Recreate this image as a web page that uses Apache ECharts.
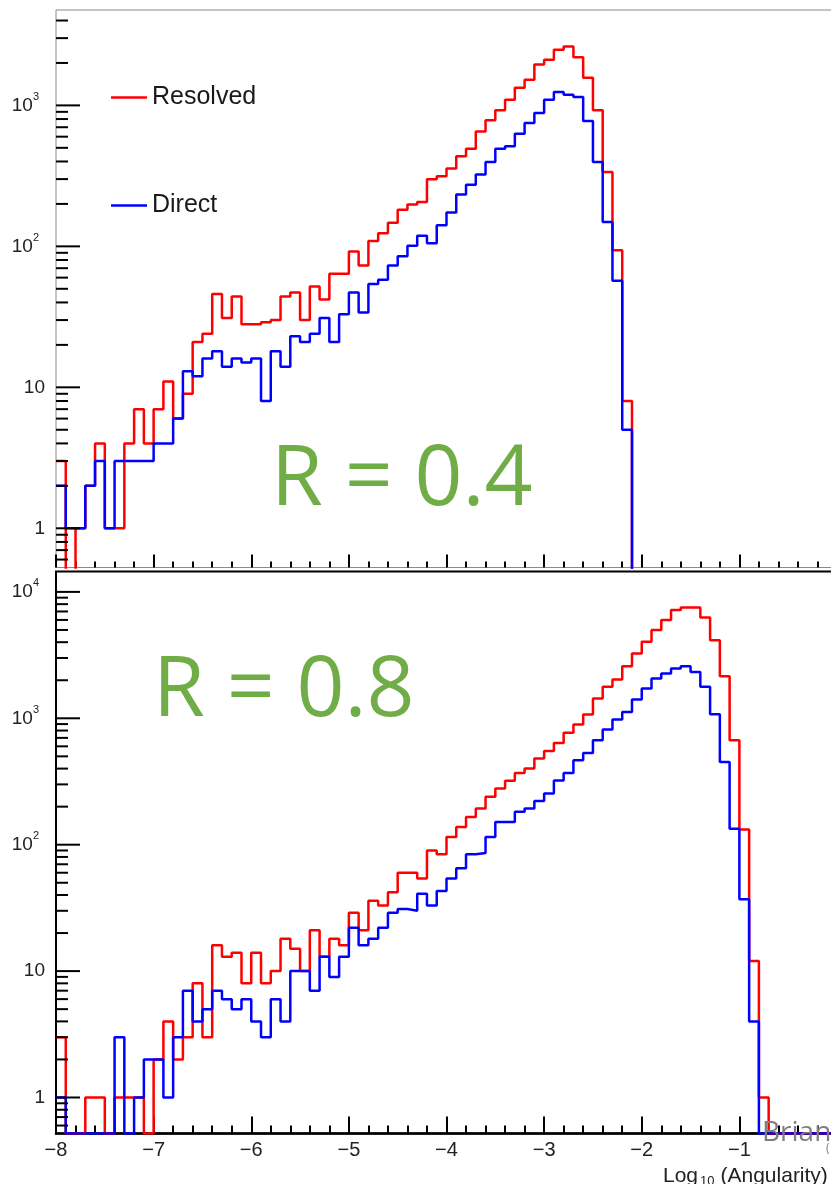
<!DOCTYPE html>
<html><head><meta charset="utf-8">
<script src="https://cdn.jsdelivr.net/npm/echarts@6/dist/echarts.min.js"></script>
<style>html,body{margin:0;padding:0;background:#fff}#c{width:831px;height:1184px}</style>
</head><body><div id="c"></div>
<script>
// ---- data (bins of width 0.1 in log10(Angularity), from -8 to 0) ----
const binStart = -8;
const binWidth = 0.1;
const xTickValues = [-8, -7, -6, -5, -4, -3, -2, -1, 0];
const seriesNames = ['Resolved', 'Direct'];
const topLabel = 'R = 0.4';
const bottomLabel = 'R = 0.8';

const topResolved = [3,0,1,2,4,1,1,4,7,4, 7,11,6,9,21,24,46,31,44,28, 28,29,30,44,47,30,52,42,64,64,
  92,73,109,124,147,182,198,206,299,314, 356,435,493,654,783,922,1097,1334,1521,1951,
  2108,2482,2618,2199,1571,922,337,94,8,0, 0,0,0,0,0,0,0,0,0,0, 0,0,0,0,0,0,0,0,0,0];
const topDirect = [2,1,1,2,3,1,3,3,3,3, 4,4,6,13,12,16,18,14,16,15, 16,8,18,14,23,21,24,31,21,33,
  47,34,54,58,73,85,101,119,105,141, 174,233,274,324,396,493,512,630,749,883,
  1097,1242,1191,1146,774,396,149,57,5,0, 0,0,0,0,0,0,0,0,0,0, 0,0,0,0,0,0,0,0,0,0];
const botResolved = [3,0,0,1,1,0,1,1,1,0, 2,4,2,3,8,3,16,13,14,8, 14,8,10,18,15,10,21,13,18,16,
  29,21,36,33,42,60,60,54,90,84, 115,138,166,193,239,278,320,370,401,481,
  552,639,767,893,1071,1435,1774,2029,2585,3257, 4027,4984,5980,7180,7540,7540,6270,4150,2153,671,
  132,12,1,0,0,0,0,0,0,0];
const botDirect = [1,0,0,0,0,0,3,0,1,2, 2,1,3,7,4,5,7,6,5,6, 4,3,6,4,10,10,7,13,9,13,
  22,16,18,22,29,31,30,41,33,43, 54,65,84,86,115,151,151,182,193,222,
  254,322,370,466,532,671,815,977,1123,1408, 1720,2065,2261,2477,2585,2328,1774,1077,452,134,
  37,4,0,0,0,0,0,0,0,0];

// ---- axis ranges ----
const TOP_YMIN = 0.527, TOP_YMAX = 4750;
const BOT_YMIN = 0.519, BOT_YMAX = 14500;
const TOP_ZERO = 0.3;        // zero bins drawn below the frame (clipped)
const BOT_ZERO = BOT_YMIN;   // zero bins drawn on the frame bottom

function stepPoints(vals, zero) {
  const pts = [];
  vals.forEach((v, i) => {
    const x0 = Math.round((binStart + i * binWidth) * 100) / 100;
    const x1 = Math.round((binStart + (i + 1) * binWidth) * 100) / 100;
    const y = v > 0 ? v : zero;
    pts.push([x0, y], [x1, y]);
  });
  return pts;
}

function logTicks(min, max) {
  const out = [];
  for (let d = -1; d <= 5; d++) {
    for (let k = 1; k <= 9; k++) {
      const v = k * Math.pow(10, d);
      if (v >= min && v <= max) out.push([binStart, v, k === 1 ? 1 : 0]);
    }
  }
  return out;
}

const FONT = '"Liberation Sans", Arial, sans-serif';
const yLabel = {
  margin: 11,
  color: '#222',
  fontSize: 19,
  fontFamily: FONT,
  formatter: function (v) {
    const l = Math.log10(v);
    const e = Math.round(l);
    if (Math.abs(l - e) > 1e-6) return '';
    if (e === 0) return '1';
    if (e === 1) return '10';
    return '{b|10}{s|' + e + '}{p|}';
  },
  rich: {
    b: { fontSize: 19, fontFamily: FONT, color: '#222', lineHeight: 28 },
    s: { fontSize: 11, fontFamily: FONT, color: '#222', verticalAlign: 'top', lineHeight: 11 },
    p: { width: 6 }
  }
};

function tickSeries(gridIdx, min, max) {
  return {
    type: 'custom', xAxisIndex: gridIdx, yAxisIndex: gridIdx, silent: true, z: 5,
    animation: false,
    data: logTicks(min, max),
    renderItem: function (params, api) {
      const p = api.coord([api.value(0), api.value(1)]);
      const len = api.value(2) ? 24 : 12;
      return { type: 'line', shape: { x1: p[0], y1: p[1], x2: p[0] + len, y2: p[1] },
        style: { stroke: '#000', lineWidth: 2 } };
    }
  };
}

function histSeries(name, color, vals, zero, idx) {
  return {
    type: 'line', name: name, xAxisIndex: idx, yAxisIndex: idx,
    data: stepPoints(vals, zero), symbol: 'none', showSymbol: false,
    color: color, lineStyle: { color: color, width: 2.5 }, itemStyle: { color: color },
    animation: false, clip: true, z: 3
  };
}

const chart = echarts.init(document.getElementById('c'), null, { renderer: 'canvas', width: 831, height: 1184 });
chart.setOption({
  backgroundColor: '#fff',
  animation: false,
  grid: [
    { left: 56, top: 10, width: 781, height: 557.5, show: true, borderColor: '#8a8a8a', borderWidth: 1, backgroundColor: 'transparent', outerBoundsMode: 'none', containLabel: false },
    { left: 56, top: 571.5, width: 781, height: 562, show: true, borderColor: '#000', borderWidth: 2, backgroundColor: 'transparent', outerBoundsMode: 'none', containLabel: false }
  ],
  legend: {
    data: seriesNames, orient: 'vertical', left: 111, top: 85, padding: 0,
    itemWidth: 36, itemHeight: 2.5, itemGap: 83, icon: 'rect',
    textStyle: { fontSize: 25, fontFamily: FONT, color: '#1a1a1a' },
    selectedMode: false
  },
  xAxis: [
    { type: 'value', gridIndex: 0, min: xTickValues[0], max: xTickValues[xTickValues.length - 1], interval: 1,
      axisLine: { show: true, lineStyle: { color: '#8a8a8a', width: 1 } },
      axisTick: { show: true, inside: true, length: 13, lineStyle: { color: '#000', width: 2 } },
      minorTick: { show: true, splitNumber: 5, length: 6, lineStyle: { color: '#000', width: 2 } },
      axisLabel: { show: false }, splitLine: { show: false }, minorSplitLine: { show: false } },
    { type: 'value', gridIndex: 1, min: xTickValues[0], max: xTickValues[xTickValues.length - 1], interval: 1,
      axisLine: { show: true, lineStyle: { color: '#000', width: 2.5 } },
      axisTick: { show: true, inside: true, length: 17, lineStyle: { color: '#000', width: 2 } },
      minorTick: { show: true, splitNumber: 5, length: 8, lineStyle: { color: '#000', width: 2 } },
      axisLabel: { show: true, margin: 7, color: '#222', fontSize: 20, fontFamily: FONT,
        formatter: v => (v < 0 ? '\u2212' + Math.abs(v) : String(v)) },
      splitLine: { show: false }, minorSplitLine: { show: false } }
  ],
  yAxis: [
    { type: 'log', logBase: 10, gridIndex: 0, min: TOP_YMIN, max: TOP_YMAX,
      axisLine: { show: true, lineStyle: { color: '#000', width: 2.5 } },
      axisTick: { show: false }, minorTick: { show: false }, splitLine: { show: false },
      axisLabel: yLabel },
    { type: 'log', logBase: 10, gridIndex: 1, min: BOT_YMIN, max: BOT_YMAX,
      axisLine: { show: true, lineStyle: { color: '#000', width: 2.5 } },
      axisTick: { show: false }, minorTick: { show: false }, splitLine: { show: false },
      axisLabel: yLabel }
  ],
  series: [
    histSeries(seriesNames[0], '#ff0000', topResolved, TOP_ZERO, 0),
    histSeries(seriesNames[1], '#0000ff', topDirect, TOP_ZERO, 0),
    histSeries(seriesNames[0], '#ff0000', botResolved, BOT_ZERO, 1),
    histSeries(seriesNames[1], '#0000ff', botDirect, BOT_ZERO, 1),
    tickSeries(0, TOP_YMIN, TOP_YMAX),
    tickSeries(1, BOT_YMIN, BOT_YMAX)
  ],
  graphic: [
    { type: 'text', x: 271, y: 481, z: 10, style: { text: topLabel, fontSize: 84, fontFamily: '"Open Sans", sans-serif', fill: '#70AD47', verticalAlign: 'middle', align: 'left' } },
    { type: 'text', x: 153, y: 692, z: 10, style: { text: bottomLabel, fontSize: 84, fontFamily: '"Open Sans", sans-serif', fill: '#70AD47', verticalAlign: 'middle', align: 'left' } },
    { type: 'text', x: 762, y: 1133, z: 10, style: { text: 'Brian', fontSize: 28, fontFamily: '"Open Sans", sans-serif', fill: '#7f7f7f', verticalAlign: 'middle', align: 'left' } },
    { type: 'text', x: 826, y: 1149, z: 10, style: { text: '(', fontSize: 12, fontFamily: '"Open Sans", sans-serif', fill: '#7f7f7f', verticalAlign: 'middle', align: 'left' } },
    { type: 'text', x: 663, y: 1176, z: 10, style: {
        text: '{n|Log}{s|10}{n|(Angularity)}', verticalAlign: 'middle', align: 'left',
        rich: {
          n: { fontSize: 21, fontFamily: FONT, fill: '#222', color: '#222', lineHeight: 24 },
          s: { fontSize: 13, fontFamily: FONT, fill: '#222', color: '#222', verticalAlign: 'bottom', lineHeight: 13, padding: [0, 6, 0, 2] }
        } } }
  ]
});
</script></body></html>
